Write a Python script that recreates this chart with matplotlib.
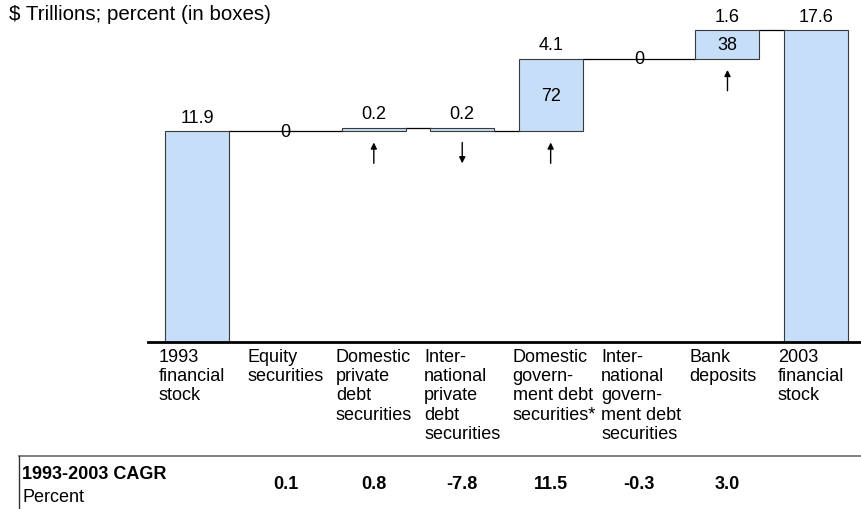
import matplotlib
matplotlib.use("Agg")
import matplotlib.pyplot as plt
from matplotlib.lines import Line2D
import matplotlib.transforms as mtransforms

plt.rcParams['font.family'] = ['Liberation Sans', 'DejaVu Sans']

# ---- data ----
categories = ["1993\nfinancial\nstock", "Equity\nsecurities", "Domestic\nprivate\ndebt\nsecurities",
              "Inter-\nnational\nprivate\ndebt\nsecurities", "Domestic\ngovern-\nment debt\nsecurities*",
              "Inter-\nnational\ngovern-\nment debt\nsecurities", "Bank\ndeposits", "2003\nfinancial\nstock"]
start_total = 11.9
end_total = 17.6
changes = [0.0, 0.2, -0.2, 4.1, 0.0, 1.6]          # signed change per middle category
change_labels = ["0", "0.2", "0.2", "4.1", "0", "1.6"]
box_shares = [None, None, None, "72", None, "38"]  # percent shown inside boxes
arrows = [None, "up", "down", "up", None, "up"]
cagr = ["0.1", "0.8", "-7.8", "11.5", "-0.3", "3.0"]

BAR_COLOR = "#C6DEF8"
EDGE_COLOR = "#3A3A3A"
W = 0.724
FS = 13

fig = plt.figure(figsize=(8.61, 5.10), dpi=100)
ax = fig.add_axes([148/861, 167/510, (861-148)/861, 0.66])
ax.set_xlim(-0.554, 7.51)
ax.set_ylim(0, 0.66*510/17.7)
for s in ["top", "right", "left"]:
    ax.spines[s].set_visible(False)
ax.spines["bottom"].set_linewidth(2.0)
ax.set_xticks([])
ax.set_yticks([])
ax.patch.set_alpha(0)

# compute bottoms / heights
n = len(categories)
bottoms, heights, levels = [0.0], [start_total], [start_total]
level = start_total
for c in changes:
    if c >= 0:
        bottoms.append(level); heights.append(c)
    else:
        bottoms.append(level + c); heights.append(-c)
    level = round(level + c, 3)
    levels.append(level)
bottoms.append(0.0); heights.append(end_total); levels.append(end_total)

xs = list(range(n))
for i in xs:
    if heights[i] > 0:
        ax.bar(i, heights[i], bottom=bottoms[i], width=W, color=BAR_COLOR,
               edgecolor=EDGE_COLOR, linewidth=0.8, zorder=2)

# connectors
nz = [i for i in xs if heights[i] > 0]
for a, b in zip(nz[:-1], nz[1:]):
    ax.plot([a + W/2, b - W/2], [levels[a], levels[a]], color="black", lw=0.9, zorder=1)

# value labels
top_labels = [f"{start_total}"] + change_labels + [f"{end_total}"]
for i in xs:
    if heights[i] > 0:
        top = bottoms[i] + heights[i]
        ax.annotate(top_labels[i], xy=(i, top), xytext=(0, 10), textcoords="offset points",
                    ha="center", va="center", fontsize=FS)
    else:
        ax.text(i, levels[i], top_labels[i], ha="center", va="center", fontsize=FS)

# box shares
for k, s in enumerate(box_shares):
    i = k + 1
    if s:
        ax.text(i, bottoms[i] + heights[i]/2, s, ha="center", va="center", fontsize=FS)

# arrows
for k, d in enumerate(arrows):
    i = k + 1
    if d is None:
        continue
    b = bottoms[i]
    near = mtransforms.offset_copy(ax.transData, fig=fig, x=0, y=-8, units="points")
    far = mtransforms.offset_copy(ax.transData, fig=fig, x=0, y=-23, units="points")
    if d == "up":
        head, tail = near, far
    else:
        head, tail = far, near
    ax.annotate("", xy=(i, b), xycoords=head, xytext=(i, b), textcoords=tail,
                arrowprops=dict(arrowstyle="-|>", color="black", lw=1.0,
                                mutation_scale=9, shrinkA=0, shrinkB=0))

# category labels
for i, lab in enumerate(categories):
    ax.annotate(lab, xy=(i - 0.43, 0), xytext=(0, -4), textcoords="offset points",
                ha="left", va="top", fontsize=FS, linespacing=1.18)

# title
fig.text(9/861, 1 - 15/510, "$ Trillions; percent (in boxes)", ha="left", va="center", fontsize=14.8)

# CAGR table
sep_y = 1 - 457/510
fig.add_artist(Line2D([19/861, 1], [sep_y, sep_y], color="#6A6A6A", lw=1.2))
fig.add_artist(Line2D([19/861, 19/861], [sep_y, 0], color="#333333", lw=1.0))
fig.text(22/861, 1 - 475/510, "1993-2003 CAGR", ha="left", va="center", fontsize=FS, fontweight="bold")
fig.text(22/861, 1 - 498/510, "Percent", ha="left", va="center", fontsize=FS)
blend = mtransforms.blended_transform_factory(ax.transData, fig.transFigure)
for k, v in enumerate(cagr):
    ax.text(k + 1, 1 - 485/510, v, transform=blend, ha="center", va="center",
            fontsize=FS, fontweight="bold")

fig.savefig("out.png", dpi=100)
